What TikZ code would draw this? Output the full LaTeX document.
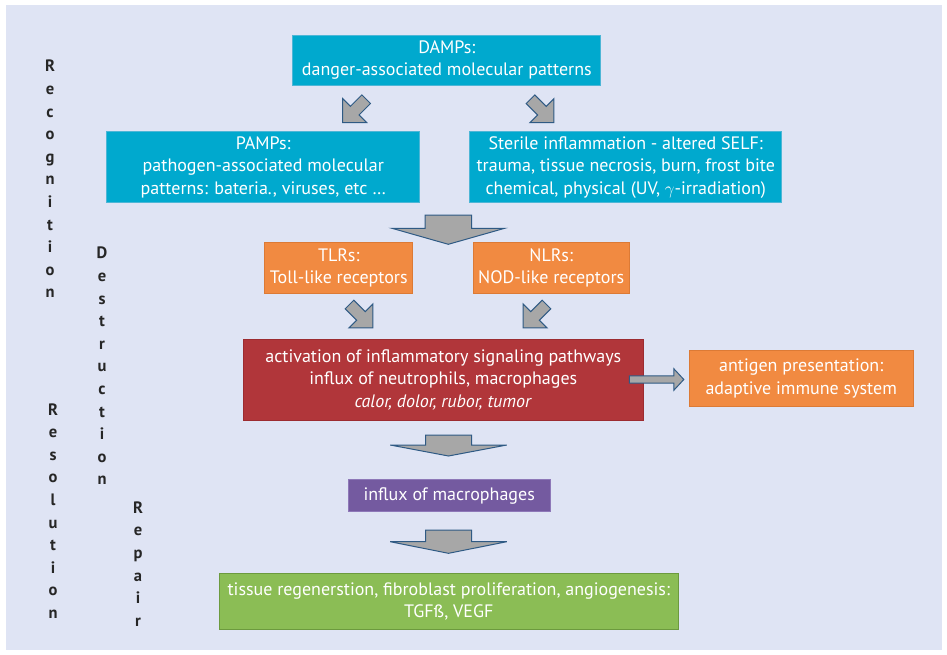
\documentclass[tikz,border=0pt]{standalone}
\usepackage{fontspec}
\setmainfont{PT Sans}

\definecolor{bgblue}{HTML}{DFE4F4}
\definecolor{dampfill}{HTML}{00A9CE}
\definecolor{dampline}{HTML}{4DB6D6}
\definecolor{tlrfill}{HTML}{F18A41}
\definecolor{tlrline}{HTML}{DC7A35}
\definecolor{inflfill}{HTML}{B1363A}
\definecolor{inflline}{HTML}{9C2B30}
\definecolor{macfill}{HTML}{745AA0}
\definecolor{macline}{HTML}{8E78B8}
\definecolor{repfill}{HTML}{8BBD55}
\definecolor{repline}{HTML}{6C9A3E}
\definecolor{arrfill}{HTML}{A7A7A7}
\definecolor{arrline}{HTML}{2F5A84}

\tikzset{
	box/.style={draw, line width=.9pt, text=white, align=center, inner sep=0pt,
		font=\fontsize{18}{22.5}\selectfont},
	dampbox/.style={box, fill=dampfill, draw=dampline},
	tlrbox/.style={box, fill=tlrfill, draw=tlrline},
	inflbox/.style={box, fill=inflfill, draw=inflline},
	macbox/.style={box, fill=macfill, draw=macline},
	repbox/.style={box, fill=repfill, draw=repline},
	phase/.style={align=center, text=black!85, inner sep=0pt,
		font=\fontsize{16.5}{22.6}\selectfont\bfseries},
	blockarrow/.style={fill=arrfill, draw=arrline, line width=1pt, line join=miter}
}

% tail, angle, shaft length, shaft half width, head length, head half width
\newcommand{\blockarr}[6]{%
	\draw[blockarrow, shift={(#1)}, rotate=#2] (0,-#4) -- (#3,-#4) -- (#3,-#6)
		-- (#3+#5,0) -- (#3,#6) -- (#3,#4) -- (0,#4) -- cycle;}

\begin{document}
\begin{tikzpicture}[x=1pt, y=-1pt]
		\useasboundingbox (0,0) rectangle (947,654);
		\fill[bgblue] (6,5) rectangle (942,650);
		
		% phases
		\node[phase] (recog) at (50,179) {R\\e\\c\\o\\g\\n\\i\\t\\i\\o\\n};
		\node[phase] (destr) at (102,366) {D\\e\\s\\t\\r\\u\\c\\t\\i\\o\\n};
		\node[phase] (resol) at (53,511) {R\\e\\s\\o\\l\\u\\t\\i\\o\\n};
		\node[phase] (repai) at (138,564) {R\\e\\p\\a\\i\\r};
		
		% boxes
		\node[dampbox, minimum width=308, minimum height=50] (damps) at (446.8,60)
			{DAMPs:\\danger-associated molecular patterns};
		\node[dampbox, minimum width=313, minimum height=71] (pamps) at (263.3,167.2)
			{PAMPs:\\pathogen-associated molecular\\patterns: bateria., viruses, etc \dots};
		\node[dampbox, minimum width=312, minimum height=71] (sterile) at (625.8,167.2)
			{Sterile inflammation - altered SELF:\\trauma, tissue necrosis, burn, frost bite\\chemical, physical (UV, $\gamma$-irradiation)};
		\node[tlrbox, minimum width=148, minimum height=51] (tlrs) at (338.8,268)
			{TLRs:\\Toll-like receptors};
		\node[tlrbox, minimum width=156, minimum height=51] (nlrs) at (551.2,268)
			{NLRs:\\NOD-like receptors};
		\node[inflbox, minimum width=400, minimum height=81] (infl) at (443.3,379.5)
			{activation of inflammatory signaling pathways\\influx of neutrophils, macrophages\\\textit{calor, dolor, rubor, tumor}};
		\node[tlrbox, minimum width=224, minimum height=56] (antigen) at (801.2,378.7)
			{antigen presentation:\\adaptive immune system};
		\node[macbox, minimum width=202, minimum height=32] (macro) at (449.2,495.5)
			{influx of macrophages};
		\node[repbox, minimum width=459, minimum height=56] (regen) at (448.8,601.3)
			{tissue regenerstion, fibroblast proliferation, angiogenesis:\\TGFß, VEGF};
		
		% arrows
		\coordinate (a1) at (366.2,99.2);
		\coordinate (a2) at (530.5,99.2);
		\coordinate (a3) at (448.3,215);
		\coordinate (a4) at (349.5,304.5);
		\coordinate (a5) at (546.5,304.5);
		\coordinate (a6) at (629.3,379.5);
		\coordinate (a7) at (448.5,435);
		\coordinate (a8) at (448.5,530);
		
		\blockarr{a1}{-135}{16.2}{6.1}{17}{17}
		\blockarr{a2}{-45}{16.2}{6.1}{17}{17}
		\blockarr{a3}{-90}{13.3}{23.3}{16}{56.3}
		\blockarr{a4}{-45}{16.2}{6.1}{17}{17}
		\blockarr{a5}{-135}{16.2}{6.1}{17}{17}
		\blockarr{a6}{0}{44.5}{3.6}{10}{10.8}
		\blockarr{a7}{-90}{10}{23}{11}{58.3}
		\blockarr{a8}{-90}{11.7}{23}{11.6}{58.3}
		\end{tikzpicture}
\end{document}
